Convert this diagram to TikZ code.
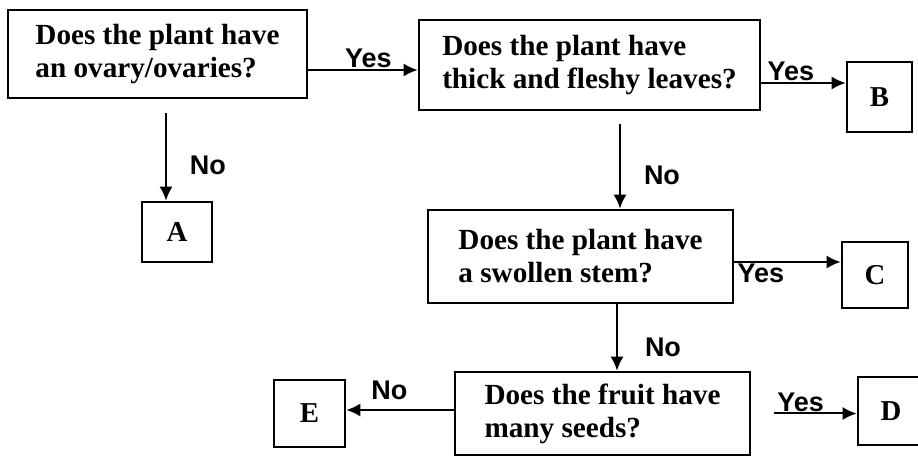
\documentclass[tikz,border=0pt]{standalone}
\usepackage{fontspec}
\setmainfont{Liberation Serif}
\newfontfamily\labelfont{Liberation Sans}
\usetikzlibrary{arrows.meta,positioning}

\begin{document}
\begin{tikzpicture}[
x=0.5pt, y=-0.5pt,
question/.style={draw=black, line width=1.3pt, align=left, font=\fontsize{14.6}{16.5}\selectfont\bfseries, inner sep=0pt},
answer/.style={draw=black, line width=1.3pt, font=\fontsize{14.4}{16.5}\selectfont\bfseries, inner sep=0pt},
lbl/.style={font=\labelfont\bfseries\fontsize{13.5}{15}\selectfont, inner sep=0.5pt},
arrow/.style={-{Latex[length=7pt,width=6.5pt]}, draw=black, line width=1pt}
]
\useasboundingbox (0,0) rectangle (918,465);
\clip (0,0) rectangle (918,465);

\node[question, minimum width=149.5pt, minimum height=44pt] (ovary) at (157.5,54) {Does the plant have\\an ovary/ovaries?};
\node[question, minimum width=170.5pt, minimum height=45pt] (leaves) at (589.5,65) {Does the plant have\\thick and fleshy leaves?};
\node[question, minimum width=152.5pt, minimum height=46.5pt] (stem) at (580.5,256.5) {Does the plant have\\a swollen stem?};
\node[question, minimum width=147.5pt, minimum height=41.5pt] (fruit) at (602.5,413.5) {Does the fruit have\\many seeds?};

\node[answer, minimum width=35pt, minimum height=30pt] (A) at (177,232) {A};
\node[answer, minimum width=32.5pt, minimum height=35pt] (B) at (879.5,97) {B};
\node[answer, minimum width=33pt, minimum height=33pt] (C) at (875,275) {C};
\node[answer, minimum width=33pt, minimum height=34pt] (D) at (891,411) {D};
\node[answer, minimum width=35.5pt, minimum height=33.5pt] (E) at (309.5,413.5) {E};

\coordinate (ovaryout) at ([yshift=-8pt]ovary.east);
\coordinate (ovarydown) at ([xshift=4.25pt,yshift=-7pt]ovary.south);
\coordinate (leavesout) at ([yshift=-9pt]leaves.east);
\coordinate (leavesdown) at ([xshift=15.25pt,yshift=-6.5pt]leaves.south);
\coordinate (stemout) at ([yshift=-2.75pt]stem.east);
\coordinate (stemdown) at ([xshift=18.25pt]stem.south);
\coordinate (fruitleft) at ([yshift=1.75pt]fruit.west);
\coordinate (fruitright) at ([xshift=11.5pt]fruit.east);

\draw[arrow] (ovaryout) -- node[lbl, above, pos=0.55] {Yes} (ovaryout -| leaves.west);
\draw[arrow] (ovarydown) -- node[lbl, right=11pt, pos=0.6] {No} (ovarydown |- A.north);
\draw[arrow] (leavesout) -- node[lbl, above, pos=0.35] {Yes} (leavesout -| B.west);
\draw[arrow] (leavesdown) -- node[lbl, right=11pt, pos=0.6] {No} (leavesdown |- stem.north);
\draw[arrow] (stemout) -- node[lbl, below, pos=0.25] {Yes} (stemout -| C.west);
\draw[arrow] (stemdown) -- node[lbl, right=13pt, pos=0.65] {No} (stemdown |- fruit.north);
\draw[arrow] (fruitleft) -- node[lbl, above=4pt, pos=0.6] {No} (fruitleft -| E.east);
\draw[arrow] (fruitright) -- node[lbl, above, pos=0.32] {Yes} (fruitright -| D.west);
\end{tikzpicture}
\end{document}
